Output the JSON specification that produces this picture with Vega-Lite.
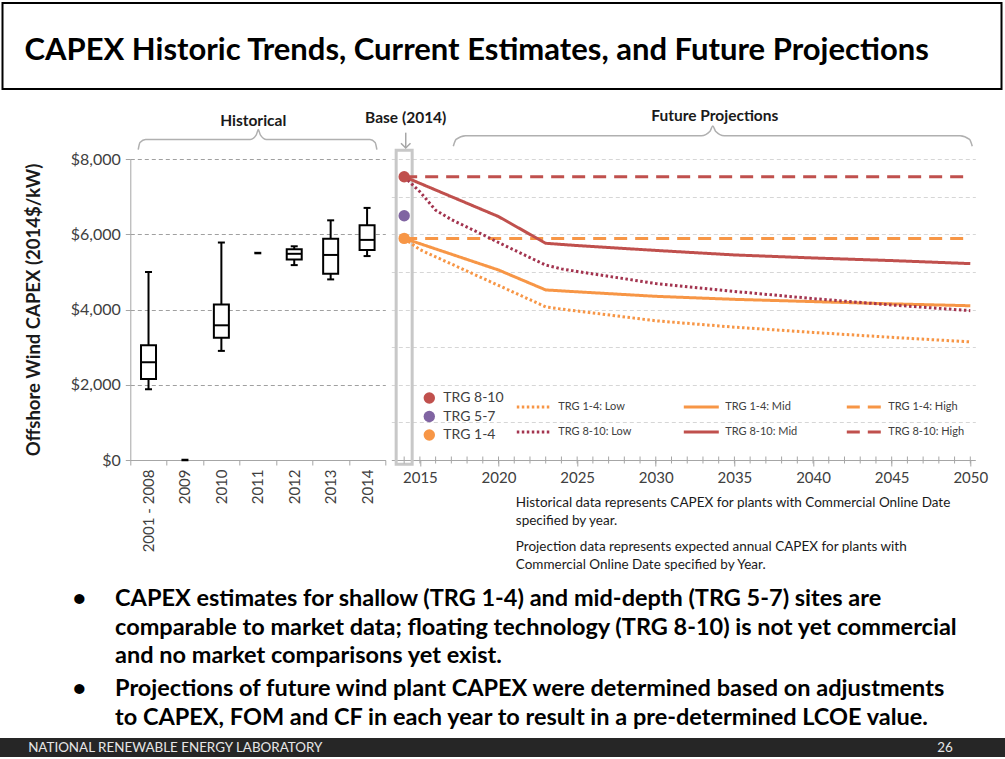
{
  "$schema": "https://vega.github.io/schema/vega-lite/v6.json",
  "background": "#ffffff",
  "padding": {"left": 0, "top": 2, "right": 0, "bottom": 0},
  "config": {
    "font": "Lato",
    "view": {"stroke": null},
    "axis": {"labelFont": "Lato", "titleFont": "Lato"},
    "legend": {"labelFont": "Lato"},
    "text": {"font": "Lato"}
  },
  "datasets": {
    "boxes": [
      {"period": "2001 - 2008", "min": 1880, "q1": 2150, "median": 2600, "q3": 3050, "max": 5000},
      {"period": "2010", "min": 2900, "q1": 3250, "median": 3580, "q3": 4130, "max": 5780},
      {"period": "2012", "min": 5180, "q1": 5330, "median": 5480, "q3": 5600, "max": 5680},
      {"period": "2013", "min": 4800, "q1": 4950, "median": 5450, "q3": 5880, "max": 6370},
      {"period": "2014", "min": 5420, "q1": 5580, "median": 5850, "q3": 6240, "max": 6700}
    ],
    "singles": [
      {"period": "2009", "value": 0},
      {"period": "2011", "value": 5500}
    ],
    "base": [
      {"trg": "TRG 8-10", "year": 2014, "value": 7530},
      {"trg": "TRG 5-7", "year": 2014, "value": 6490},
      {"trg": "TRG 1-4", "year": 2014, "value": 5890}
    ],
    "yearTicks": [
      {"year": 2014}, {"year": 2015}, {"year": 2016}, {"year": 2017}, {"year": 2018}, {"year": 2019},
      {"year": 2020}, {"year": 2021}, {"year": 2022}, {"year": 2023}, {"year": 2024}, {"year": 2025},
      {"year": 2026}, {"year": 2027}, {"year": 2028}, {"year": 2029}, {"year": 2030}, {"year": 2031},
      {"year": 2032}, {"year": 2033}, {"year": 2034}, {"year": 2035}, {"year": 2036}, {"year": 2037},
      {"year": 2038}, {"year": 2039}, {"year": 2040}, {"year": 2041}, {"year": 2042}, {"year": 2043},
      {"year": 2044}, {"year": 2045}, {"year": 2046}, {"year": 2047}, {"year": 2048}, {"year": 2049},
      {"year": 2050}
    ],
    "proj": [
      {"series": "TRG 1-4: Low", "year": 2014, "value": 5890},
      {"series": "TRG 1-4: Low", "year": 2015, "value": 5590},
      {"series": "TRG 1-4: Low", "year": 2016, "value": 5400},
      {"series": "TRG 1-4: Low", "year": 2017, "value": 5210},
      {"series": "TRG 1-4: Low", "year": 2018, "value": 5020},
      {"series": "TRG 1-4: Low", "year": 2019, "value": 4830},
      {"series": "TRG 1-4: Low", "year": 2020, "value": 4640},
      {"series": "TRG 1-4: Low", "year": 2021, "value": 4450},
      {"series": "TRG 1-4: Low", "year": 2022, "value": 4260},
      {"series": "TRG 1-4: Low", "year": 2023, "value": 4070},
      {"series": "TRG 1-4: Low", "year": 2024, "value": 4010},
      {"series": "TRG 1-4: Low", "year": 2025, "value": 3960},
      {"series": "TRG 1-4: Low", "year": 2030, "value": 3700},
      {"series": "TRG 1-4: Low", "year": 2035, "value": 3530},
      {"series": "TRG 1-4: Low", "year": 2040, "value": 3390},
      {"series": "TRG 1-4: Low", "year": 2045, "value": 3260},
      {"series": "TRG 1-4: Low", "year": 2050, "value": 3140},
      {"series": "TRG 1-4: Mid", "year": 2014, "value": 5890},
      {"series": "TRG 1-4: Mid", "year": 2020, "value": 5050},
      {"series": "TRG 1-4: Mid", "year": 2023, "value": 4520},
      {"series": "TRG 1-4: Mid", "year": 2025, "value": 4470},
      {"series": "TRG 1-4: Mid", "year": 2030, "value": 4350},
      {"series": "TRG 1-4: Mid", "year": 2035, "value": 4270},
      {"series": "TRG 1-4: Mid", "year": 2040, "value": 4210},
      {"series": "TRG 1-4: Mid", "year": 2045, "value": 4150},
      {"series": "TRG 1-4: Mid", "year": 2050, "value": 4100},
      {"series": "TRG 1-4: High", "year": 2014, "value": 5890},
      {"series": "TRG 1-4: High", "year": 2020, "value": 5890},
      {"series": "TRG 1-4: High", "year": 2025, "value": 5890},
      {"series": "TRG 1-4: High", "year": 2030, "value": 5890},
      {"series": "TRG 1-4: High", "year": 2035, "value": 5890},
      {"series": "TRG 1-4: High", "year": 2040, "value": 5890},
      {"series": "TRG 1-4: High", "year": 2045, "value": 5890},
      {"series": "TRG 1-4: High", "year": 2050, "value": 5890},
      {"series": "TRG 8-10:  Low", "year": 2014, "value": 7530},
      {"series": "TRG 8-10:  Low", "year": 2015, "value": 7130},
      {"series": "TRG 8-10:  Low", "year": 2016, "value": 6640},
      {"series": "TRG 8-10:  Low", "year": 2017, "value": 6390},
      {"series": "TRG 8-10:  Low", "year": 2018, "value": 6190},
      {"series": "TRG 8-10:  Low", "year": 2019, "value": 5990},
      {"series": "TRG 8-10:  Low", "year": 2020, "value": 5780},
      {"series": "TRG 8-10:  Low", "year": 2021, "value": 5580},
      {"series": "TRG 8-10:  Low", "year": 2022, "value": 5380},
      {"series": "TRG 8-10:  Low", "year": 2023, "value": 5180},
      {"series": "TRG 8-10:  Low", "year": 2024, "value": 5080},
      {"series": "TRG 8-10:  Low", "year": 2025, "value": 5010},
      {"series": "TRG 8-10:  Low", "year": 2030, "value": 4690},
      {"series": "TRG 8-10:  Low", "year": 2035, "value": 4480},
      {"series": "TRG 8-10:  Low", "year": 2040, "value": 4290},
      {"series": "TRG 8-10:  Low", "year": 2045, "value": 4120},
      {"series": "TRG 8-10:  Low", "year": 2050, "value": 3970},
      {"series": "TRG 8-10: Mid", "year": 2014, "value": 7530},
      {"series": "TRG 8-10: Mid", "year": 2020, "value": 6470},
      {"series": "TRG 8-10: Mid", "year": 2023, "value": 5760},
      {"series": "TRG 8-10: Mid", "year": 2025, "value": 5700},
      {"series": "TRG 8-10: Mid", "year": 2030, "value": 5570},
      {"series": "TRG 8-10: Mid", "year": 2035, "value": 5450},
      {"series": "TRG 8-10: Mid", "year": 2040, "value": 5370},
      {"series": "TRG 8-10: Mid", "year": 2045, "value": 5300},
      {"series": "TRG 8-10: Mid", "year": 2050, "value": 5220},
      {"series": "TRG 8-10: High", "year": 2014, "value": 7530},
      {"series": "TRG 8-10: High", "year": 2020, "value": 7530},
      {"series": "TRG 8-10: High", "year": 2025, "value": 7530},
      {"series": "TRG 8-10: High", "year": 2030, "value": 7530},
      {"series": "TRG 8-10: High", "year": 2035, "value": 7530},
      {"series": "TRG 8-10: High", "year": 2040, "value": 7530},
      {"series": "TRG 8-10: High", "year": 2045, "value": 7530},
      {"series": "TRG 8-10: High", "year": 2050, "value": 7530}
    ],
    "braceL": [
      {"bx": 0.031, "by": 8248}, {"bx": 0.038, "by": 8440}, {"bx": 0.06, "by": 8515},
      {"bx": 0.47, "by": 8515}, {"bx": 0.494, "by": 8640}, {"bx": 0.502, "by": 8781},
      {"bx": 0.51, "by": 8640}, {"bx": 0.534, "by": 8515}, {"bx": 0.94, "by": 8515},
      {"bx": 0.96, "by": 8440}, {"bx": 0.967, "by": 8248}
    ],
    "braceR": [
      {"year": 2017.125, "value": 8339}, {"year": 2017.3, "value": 8520}, {"year": 2017.9, "value": 8621},
      {"year": 2032.9, "value": 8621}, {"year": 2033.45, "value": 8740}, {"year": 2033.625, "value": 8880},
      {"year": 2033.8, "value": 8740}, {"year": 2034.35, "value": 8621}, {"year": 2049.35, "value": 8621},
      {"year": 2049.95, "value": 8520}, {"year": 2050.125, "value": 8339}
    ]
  },
  "spacing": 18,
  "center": true,
  "vconcat": [
    {
      "width": 999,
      "height": 86,
      "view": {"stroke": "#000000", "strokeWidth": 2},
      "data": {"values": [{"title": "CAPEX Historic Trends, Current Estimates, and Future Projections"}]},
      "mark": {"type": "text", "align": "left", "baseline": "middle", "fontSize": 31, "fontWeight": "bold", "color": "#000000"},
      "encoding": {
        "text": {"field": "title"},
        "x": {"datum": 0.022, "type": "quantitative", "scale": {"domain": [0, 1]}, "axis": null},
        "y": {"datum": 0.44, "type": "quantitative", "scale": {"domain": [0, 1]}, "axis": null}
      }
    },
    {
      "spacing": 15,
      "center": true,
      "vconcat": [
        {
          "spacing": 6,
          "bounds": "flush",
          "hconcat": [
            {
              "width": 107,
              "height": 301,
              "data": {"values": []},
              "mark": {"type": "point", "opacity": 0}
            },
            {
              "width": 255,
              "height": 301,
              "resolve": {"scale": {"x": "independent"}},
              "layer": [
                {
                  "layer": [
                    {
                      "data": {"name": "boxes"},
                      "mark": {"type": "rule", "color": "#000000", "strokeWidth": 2},
                      "encoding": {
                        "x": {"field": "period", "type": "nominal", "title": null, "scale": {"domain": ["2001 - 2008", "2009", "2010", "2011", "2012", "2013", "2014"], "paddingInner": 0, "paddingOuter": 0}, "axis": {"labelAngle": -90, "tickBand": "extent", "tickSize": 5, "tickColor": "#a6a6a6", "domainColor": "#a6a6a6", "labelFontSize": 15, "labelColor": "#404040", "labelPadding": 4}},
                        "y": {"field": "min", "type": "quantitative", "title": "Offshore Wind CAPEX (2014$/kW)", "scale": {"domain": [0, 8000], "nice": false}, "axis": {"values": [0, 1000, 2000, 3000, 4000, 5000, 6000, 7000, 8000], "format": "$,.0f", "grid": true, "gridDash": [4, 3], "gridColor": "#a0a0a0", "domainColor": "#a6a6a6", "tickColor": "#a6a6a6", "tickSize": 5, "labelFontSize": 16, "labelColor": "#404040", "labelPadding": 5, "titleFontSize": 18.5, "titleFontWeight": "bold", "titleColor": "#1a1a1a", "titlePadding": 27}},
                        "y2": {"field": "max"}
                      }
                    },
                    {
                      "data": {"name": "boxes"},
                      "mark": {"type": "bar", "size": 15, "fill": "#ffffff", "stroke": "#000000", "strokeWidth": 2},
                      "encoding": {
                        "x": {"field": "period", "type": "nominal", "title": null},
                        "y": {"field": "q1", "type": "quantitative", "title": "Offshore Wind CAPEX (2014$/kW)"},
                        "y2": {"field": "q3"}
                      }
                    },
                    {
                      "data": {"name": "boxes"},
                      "mark": {"type": "tick", "size": 15, "thickness": 2, "color": "#000000", "opacity": 1},
                      "encoding": {
                        "x": {"field": "period", "type": "nominal", "title": null},
                        "y": {"field": "median", "type": "quantitative", "title": "Offshore Wind CAPEX (2014$/kW)"}
                      }
                    },
                    {
                      "data": {"name": "boxes"},
                      "mark": {"type": "tick", "size": 7, "thickness": 2, "color": "#000000", "opacity": 1},
                      "encoding": {
                        "x": {"field": "period", "type": "nominal", "title": null},
                        "y": {"field": "min", "type": "quantitative", "title": "Offshore Wind CAPEX (2014$/kW)"}
                      }
                    },
                    {
                      "data": {"name": "boxes"},
                      "mark": {"type": "tick", "size": 7, "thickness": 2, "color": "#000000", "opacity": 1},
                      "encoding": {
                        "x": {"field": "period", "type": "nominal", "title": null},
                        "y": {"field": "max", "type": "quantitative", "title": "Offshore Wind CAPEX (2014$/kW)"}
                      }
                    },
                    {
                      "data": {"name": "singles"},
                      "mark": {"type": "tick", "size": 7, "thickness": 2.5, "color": "#000000", "opacity": 1},
                      "encoding": {
                        "x": {"field": "period", "type": "nominal", "title": null},
                        "y": {"field": "value", "type": "quantitative", "title": "Offshore Wind CAPEX (2014$/kW)"}
                      }
                    }
                  ]
                },
                {
                  "layer": [
                    {
                      "data": {"name": "braceL"},
                      "mark": {"type": "line", "interpolate": "monotone", "stroke": "#b0b0b0", "strokeWidth": 1.5},
                      "encoding": {
                        "x": {"field": "bx", "type": "quantitative", "scale": {"domain": [0, 1], "nice": false}, "axis": null},
                        "y": {"field": "by", "type": "quantitative", "title": "Offshore Wind CAPEX (2014$/kW)"}
                      }
                    },
                    {
                      "data": {"values": [{}]},
                      "mark": {"type": "text", "text": "Historical", "fontSize": 15.5, "fontWeight": "bold", "color": "#1a1a1a", "baseline": "middle", "align": "center"},
                      "encoding": {
                        "x": {"datum": 0.482, "type": "quantitative", "axis": null},
                        "y": {"datum": 9013, "type": "quantitative"}
                      }
                    }
                  ]
                }
              ]
            },
            {
              "width": 584,
              "height": 301,
              "resolve": {"scale": {"color": "independent", "strokeDash": "independent"}},
              "layer": [
                {
                  "data": {"values": [{}]},
                  "mark": {"type": "bar", "size": 16, "fill": "transparent", "stroke": "#c8c8c8", "strokeWidth": 3},
                  "encoding": {
                    "x": {"datum": 2014, "type": "quantitative", "title": null, "scale": {"domain": [2013.5, 2050], "nice": false, "zero": false}, "axis": {"values": [2015, 2020, 2025, 2030, 2035, 2040, 2045, 2050], "format": "d", "labelOverlap": false, "labelFlush": true, "labelFontSize": 15, "labelColor": "#404040", "labelPadding": 4, "domainColor": "#a6a6a6", "tickColor": "#a6a6a6", "tickSize": 6, "grid": false, "title": null}},
                    "y": {"datum": 8230, "type": "quantitative", "title": null, "scale": {"domain": [0, 8000], "nice": false}, "axis": {"values": [1000, 2000, 3000, 4000, 5000, 6000, 7000, 8000], "grid": true, "gridColor": "#d6d6d6", "gridDash": [4, 3], "labels": false, "ticks": false, "domain": false, "title": null}},
                    "y2": {"datum": -110}
                  }
                },
                {
                  "data": {"name": "yearTicks"},
                  "mark": {"type": "tick", "orient": "vertical", "size": 7, "thickness": 1, "color": "#a6a6a6", "opacity": 1},
                  "encoding": {
                    "x": {"field": "year", "type": "quantitative", "title": null},
                    "y": {"datum": 0, "type": "quantitative"}
                  }
                },
                {
                  "data": {"name": "proj"},
                  "mark": {"type": "line", "strokeWidth": 3},
                  "encoding": {
                    "x": {"field": "year", "type": "quantitative", "title": null},
                    "y": {"field": "value", "type": "quantitative", "title": null},
                    "color": {"field": "series", "type": "nominal", "title": null,
                      "scale": {"domain": ["TRG 1-4: Low", "TRG 8-10:  Low", "TRG 1-4: Mid", "TRG 8-10: Mid", "TRG 1-4: High", "TRG 8-10: High"], "range": ["#f79646", "#a3344f", "#f79646", "#c0504d", "#f79646", "#c0504d"]},
                      "legend": {"orient": "none", "legendX": 124, "legendY": 229, "columns": 3, "title": null, "symbolType": "stroke", "symbolSize": 1225, "symbolStrokeWidth": 3, "labelFontSize": 11, "labelColor": "#404040", "columnPadding": 43, "rowPadding": -5, "labelOffset": 5}},
                    "strokeDash": {"field": "series", "type": "nominal", "title": null,
                      "scale": {"domain": ["TRG 1-4: Low", "TRG 8-10:  Low", "TRG 1-4: Mid", "TRG 8-10: Mid", "TRG 1-4: High", "TRG 8-10: High"], "range": [[2.5, 2.5], [2.5, 2.5], [1, 0], [1, 0], [13, 8], [13, 8]]},
                      "legend": {"orient": "none", "legendX": 124, "legendY": 229, "columns": 3, "title": null, "symbolType": "stroke", "symbolSize": 1225, "symbolStrokeWidth": 3, "labelFontSize": 11, "labelColor": "#404040", "columnPadding": 43, "rowPadding": -5, "labelOffset": 5}}
                  }
                },
                {
                  "data": {"name": "base"},
                  "mark": {"type": "circle", "size": 130, "opacity": 1},
                  "encoding": {
                    "x": {"field": "year", "type": "quantitative", "title": null},
                    "y": {"field": "value", "type": "quantitative", "title": null},
                    "color": {"field": "trg", "type": "nominal", "title": null,
                      "scale": {"domain": ["TRG 8-10", "TRG 5-7", "TRG 1-4"], "range": ["#c0504d", "#8064a2", "#f79646"]},
                      "legend": {"orient": "none", "legendX": 31, "legendY": 232, "title": null, "symbolType": "circle", "symbolSize": 130, "labelFontSize": 14, "labelColor": "#404040", "rowPadding": 4.5, "labelOffset": 7}}
                  }
                },
                {
                  "data": {"values": [{}]},
                  "mark": {"type": "rule", "stroke": "#a6a6a6", "strokeWidth": 1.5},
                  "encoding": {
                    "x": {"datum": 2014.1, "type": "quantitative"},
                    "y": {"datum": 8700, "type": "quantitative"},
                    "y2": {"datum": 8300}
                  }
                },
                {
                  "data": {"values": [{}]},
                  "mark": {"type": "point", "shape": "M-1,-0.7L0,0.3L1,-0.7", "size": 90, "filled": false, "stroke": "#a6a6a6", "strokeWidth": 1.5, "opacity": 1},
                  "encoding": {
                    "x": {"datum": 2014.1, "type": "quantitative"},
                    "y": {"datum": 8330, "type": "quantitative"}
                  }
                },
                {
                  "data": {"values": [{}]},
                  "mark": {"type": "text", "text": "Base (2014)", "fontSize": 15.5, "fontWeight": "bold", "color": "#1a1a1a", "baseline": "middle", "align": "center"},
                  "encoding": {
                    "x": {"datum": 2014.1, "type": "quantitative"},
                    "y": {"datum": 9093, "type": "quantitative"}
                  }
                },
                {
                  "data": {"name": "braceR"},
                  "mark": {"type": "line", "interpolate": "monotone", "stroke": "#b0b0b0", "strokeWidth": 1.5},
                  "encoding": {
                    "x": {"field": "year", "type": "quantitative"},
                    "y": {"field": "value", "type": "quantitative"}
                  }
                },
                {
                  "data": {"values": [{}]},
                  "mark": {"type": "text", "text": "Future Projections", "fontSize": 15.5, "fontWeight": "bold", "color": "#1a1a1a", "baseline": "middle", "align": "center"},
                  "encoding": {
                    "x": {"datum": 2033.75, "type": "quantitative"},
                    "y": {"datum": 9147, "type": "quantitative"}
                  }
                },
                {
                  "data": {"values": [{"note": "Historical data represents CAPEX for plants with Commercial Online Date\nspecified by year."}]},
                  "mark": {"type": "text", "align": "left", "baseline": "top", "fontSize": 13.5, "lineBreak": "\n", "lineHeight": 17.5, "color": "#1a1a1a"},
                  "encoding": {
                    "x": {"datum": 2021.1, "type": "quantitative"},
                    "y": {"datum": -960, "type": "quantitative"},
                    "text": {"field": "note"}
                  }
                },
                {
                  "data": {"values": [{"note": "Projection data represents expected annual CAPEX for plants with\nCommercial Online Date specified by Year."}]},
                  "mark": {"type": "text", "align": "left", "baseline": "top", "fontSize": 13.5, "lineBreak": "\n", "lineHeight": 17.5, "color": "#1a1a1a"},
                  "encoding": {
                    "x": {"datum": 2021.1, "type": "quantitative"},
                    "y": {"datum": -2130, "type": "quantitative"},
                    "text": {"field": "note"}
                  }
                }
              ]
            }
          ]
        },
        {
          "spacing": 9,
          "center": true,
          "vconcat": [
            {
              "width": 935,
              "height": 90,
              "data": {"values": [
                {"para": 1, "text": "CAPEX estimates for shallow (TRG 1-4) and mid-depth (TRG 5-7) sites are\ncomparable to market data; floating technology (TRG 8-10) is not yet commercial\nand no market comparisons yet exist."},
                {"para": 2, "text": "Projections of future wind plant CAPEX were determined based on adjustments\nto CAPEX, FOM and CF in each year to result in a pre-determined LCOE value."}
              ]},
              "layer": [
                {
                  "mark": {"type": "text", "text": "•", "align": "left", "baseline": "top", "fontSize": 23.5, "fontWeight": "bold", "color": "#000000"},
                  "encoding": {
                    "x": {"datum": 0.04, "type": "quantitative", "scale": {"domain": [0, 1]}, "axis": null},
                    "y": {"field": "para", "type": "ordinal", "axis": null, "scale": {"type": "point", "padding": 0}}
                  }
                },
                {
                  "mark": {"type": "text", "align": "left", "baseline": "top", "fontSize": 23.5, "fontWeight": "bold", "lineBreak": "\n", "lineHeight": 28.5, "color": "#000000"},
                  "encoding": {
                    "x": {"datum": 0.0856, "type": "quantitative", "scale": {"domain": [0, 1]}, "axis": null},
                    "y": {"field": "para", "type": "ordinal", "axis": null, "scale": {"type": "point", "padding": 0}},
                    "text": {"field": "text"}
                  }
                }
              ]
            },
            {
              "width": 1005,
              "height": 19,
              "view": {"fill": "#262626", "stroke": null},
              "data": {"values": [
                {"label": "NATIONAL RENEWABLE ENERGY LABORATORY", "side": "left"},
                {"label": "26", "side": "right"}
              ]},
              "layer": [
                {
                  "transform": [{"filter": "datum.side === 'left'"}],
                  "mark": {"type": "text", "align": "left", "baseline": "middle", "fontSize": 13.4, "color": "#e6e6e6"},
                  "encoding": {
                    "x": {"datum": 0.028, "type": "quantitative", "scale": {"domain": [0, 1]}, "axis": null},
                    "y": {"datum": 0.5, "type": "quantitative", "scale": {"domain": [0, 1]}, "axis": null},
                    "text": {"field": "label"}
                  }
                },
                {
                  "transform": [{"filter": "datum.side === 'right'"}],
                  "mark": {"type": "text", "align": "center", "baseline": "middle", "fontSize": 13.4, "color": "#e6e6e6"},
                  "encoding": {
                    "x": {"datum": 0.9403, "type": "quantitative", "axis": null},
                    "y": {"datum": 0.5, "type": "quantitative", "axis": null},
                    "text": {"field": "label"}
                  }
                }
              ]
            }
          ]
        }
      ]
    }
  ]
}
